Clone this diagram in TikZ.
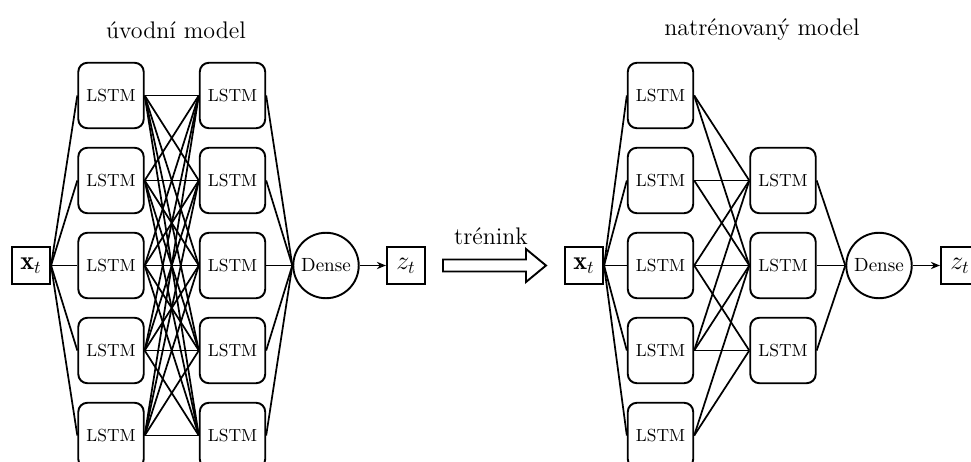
\documentclass[tikz,border=0pt]{standalone}
\usepackage{fontspec}
\usetikzlibrary{arrows.meta}
\begin{document}
\begin{tikzpicture}[x=0.55pt,y=-0.55pt,
  lstm/.style={draw,rounded corners=5pt,minimum width=36pt,minimum height=36pt,inner sep=0pt,font=\fontsize{9.6}{11}\selectfont,line width=1.05pt},
  io/.style={draw,minimum width=21pt,minimum height=20.5pt,inner sep=0pt,line width=1.05pt,font=\Large},
  dense/.style={draw,circle,minimum size=36pt,inner sep=0pt,line width=1.05pt,font=\fontsize{10.5}{12}\selectfont},
  conn/.style={line width=0.95pt},
  title/.style={font=\fontsize{13.2}{16}\selectfont}]
\useasboundingbox (0,0) rectangle (971,462);
% titles
\node[title] (t1) at (176,30) {úvodní model};
\node[title] (t2) at (762,30) {natrénovaný model};
\node[title] (tr) at (491,236) {trénink};
% left model
\node[io] (xl) at (31,265.5) {$\mathbf{x}_t$};
\foreach \i/\y in {1/95.5,2/180.5,3/265.5,4/350.5,5/435.5}{
  \node[lstm] (a\i) at (111,\y) {LSTM};
  \node[lstm] (b\i) at (232.5,\y) {LSTM};
}
\node[dense] (dl) at (326,265.5) {Dense};
\node[io] (zl) at (406,265.5) {$z_t$};
\foreach \i in {1,...,5}{
  \draw[conn] (xl.east) -- (a\i.west);
  \draw[conn] (b\i.east) -- (dl.west);
  \foreach \j in {1,...,5}{
    \draw[conn] (a\i.east) -- (b\j.west);
  }
}
\draw[conn,-{Stealth[length=5pt,width=4pt]}] (dl.east) -- (zl.west);
% training arrow
\draw[line width=1.05pt] (443,259.5) -- (526,259.5) -- (526,249) -- (546,265.5) -- (526,282) -- (526,271.5) -- (443,271.5) -- cycle;
% right model
\node[io] (xr) at (584,265.5) {$\mathbf{x}_t$};
\foreach \i/\y in {1/95.5,2/180.5,3/265.5,4/350.5,5/435.5}{
  \node[lstm] (c\i) at (660.5,\y) {LSTM};
  \draw[conn] (xr.east) -- (c\i.west);
}
\foreach \i/\y in {1/180.5,2/265.5,3/350.5}{
  \node[lstm] (d\i) at (783,\y) {LSTM};
}
\node[dense] (dr) at (879,265.5) {Dense};
\node[io] (zr) at (960,265.5) {$z_t$};
\foreach \i in {1,2,3}{
  \draw[conn] (d\i.east) -- (dr.west);
}
\foreach \i/\j in {1/1,1/2,2/1,2/2,3/1,3/2,3/3,4/1,4/2,4/3,5/2,5/3}{
  \draw[conn] (c\i.east) -- (d\j.west);
}
\draw[conn,-{Stealth[length=5pt,width=4pt]}] (dr.east) -- (zr.west);
\end{tikzpicture}
\end{document}
